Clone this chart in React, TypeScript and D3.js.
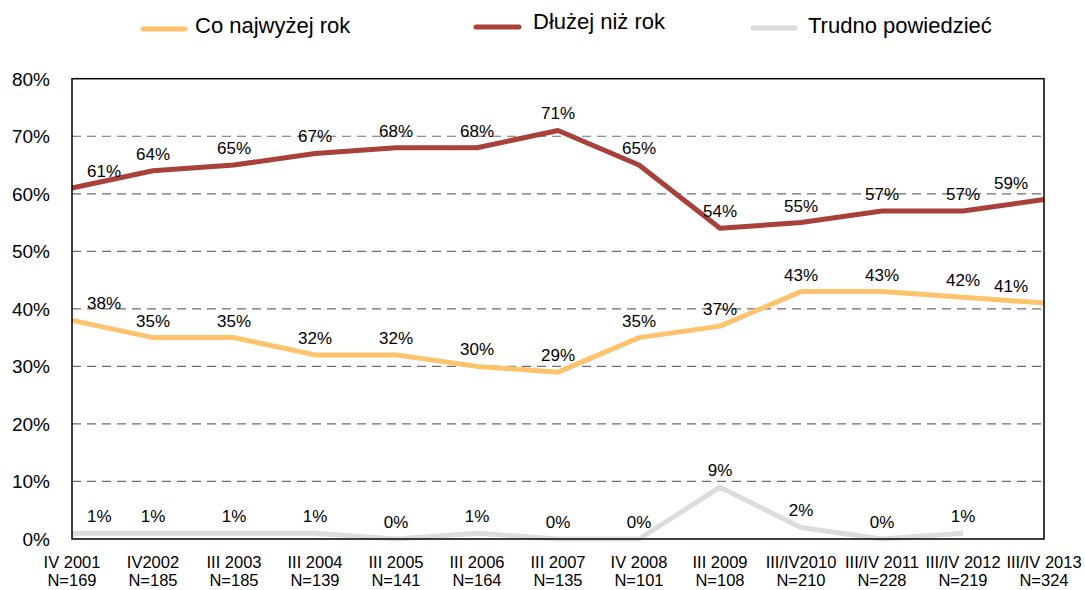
import React from "react";
import * as d3 from "d3";

const categories = ["IV 2001", "IV2002", "III 2003", "III 2004", "III 2005", "III 2006", "III 2007", "IV 2008", "III 2009", "III/IV2010", "III/IV 2011", "III/IV 2012", "III/IV 2013"];
const sampleSizes = ["N=169", "N=185", "N=185", "N=139", "N=141", "N=164", "N=135", "N=101", "N=108", "N=210", "N=228", "N=219", "N=324"];
const atMostYear: (number | null)[] = [38, 35, 35, 32, 32, 30, 29, 35, 37, 43, 43, 42, 41];
const longerThanYear: (number | null)[] = [61, 64, 65, 67, 68, 68, 71, 65, 54, 55, 57, 57, 59];
const hardToSay: (number | null)[] = [1, 1, 1, 1, 0, 1, 0, 0, 9, 2, 0, 1, null];
const yTicks = [0, 10, 20, 30, 40, 50, 60, 70, 80];

const seriesList = [
  { name: "Trudno powiedzieć", values: hardToSay, color: "#DCDCDC" },
  { name: "Co najwyżej rok", values: atMostYear, color: "#FFC36D" },
  { name: "Dłużej niż rok", values: longerThanYear, color: "#A8413B" },
];

const W = 1085, H = 590;
const L = 72, R = 1044, T = 78.7, B = 539;
const FONT = "'Liberation Sans', Arial, sans-serif";

export default function App() {
  const x = d3.scalePoint<string>().domain(categories).range([L, R]);
  const y = d3.scaleLinear().domain([0, 80]).range([B, T]);
  const line = d3
    .line<number | null>()
    .defined((d) => d !== null)
    .x((_, i) => x(categories[i]) as number)
    .y((d) => y(d as number));

  const legendItems = [
    { name: "Co najwyżej rok", color: "#FFC36D", x1: 143, x2: 185, ly: 29, tx: 195, ty: 33 },
    { name: "Dłużej niż rok", color: "#A8413B", x1: 476, x2: 519, ly: 27, tx: 533, ty: 29 },
    { name: "Trudno powiedzieć", color: "#DCDCDC", x1: 753, x2: 795, ly: 28, tx: 808, ty: 33 },
  ];

  return (
    <svg width={W} height={H} style={{ position: "absolute", left: 0, top: 0 }} fontFamily={FONT}>
      <rect x={0} y={0} width={W} height={H} fill="#fff" />
      {yTicks.filter((t) => t > 0 && t < 80).map((t) => (
        <line key={t} x1={L} x2={R} y1={y(t)} y2={y(t)} stroke="#6e6e6e" strokeWidth={1.2} strokeDasharray="9,6" />
      ))}
      {yTicks.map((t) => (
        <text key={t} x={50} y={y(t)} dy="0.36em" textAnchor="end" fontSize={19} fill="#000">
          {t}%
        </text>
      ))}
      {seriesList.map((s) => (
        <path key={s.name} d={line(s.values) || ""} fill="none" stroke={s.color} strokeWidth={5} strokeLinejoin="round" />
      ))}
      <rect x={L} y={T} width={R - L} height={B - T} fill="none" stroke="#000" strokeWidth={1.5} />
      {seriesList.map((s) =>
        s.values.map((v, i) => {
          if (v === null) return null;
          const px = x(categories[i]) as number;
          let anchor: "start" | "middle" | "end" = "middle";
          let lx = px;
          if (i === 0) {
            anchor = "start";
            lx = L + 15;
          } else if (i === categories.length - 1) {
            anchor = "end";
            lx = R - 16;
          }
          return (
            <text key={s.name + i} x={lx} y={y(v) - 11} textAnchor={anchor} fontSize={17} fill="#000">
              {v}%
            </text>
          );
        })
      )}
      {categories.map((c, i) => (
        <g key={c}>
          <text x={x(c) as number} y={568} textAnchor="middle" fontSize={16.5} fill="#000">{c}</text>
          <text x={x(c) as number} y={586} textAnchor="middle" fontSize={16.5} fill="#000">{sampleSizes[i]}</text>
        </g>
      ))}
      {legendItems.map((li) => (
        <g key={li.name}>
          <line x1={li.x1} x2={li.x2} y1={li.ly} y2={li.ly} stroke={li.color} strokeWidth={5} strokeLinecap="round" />
          <text x={li.tx} y={li.ty} fontSize={22} fill="#000">{li.name}</text>
        </g>
      ))}
    </svg>
  );
}
